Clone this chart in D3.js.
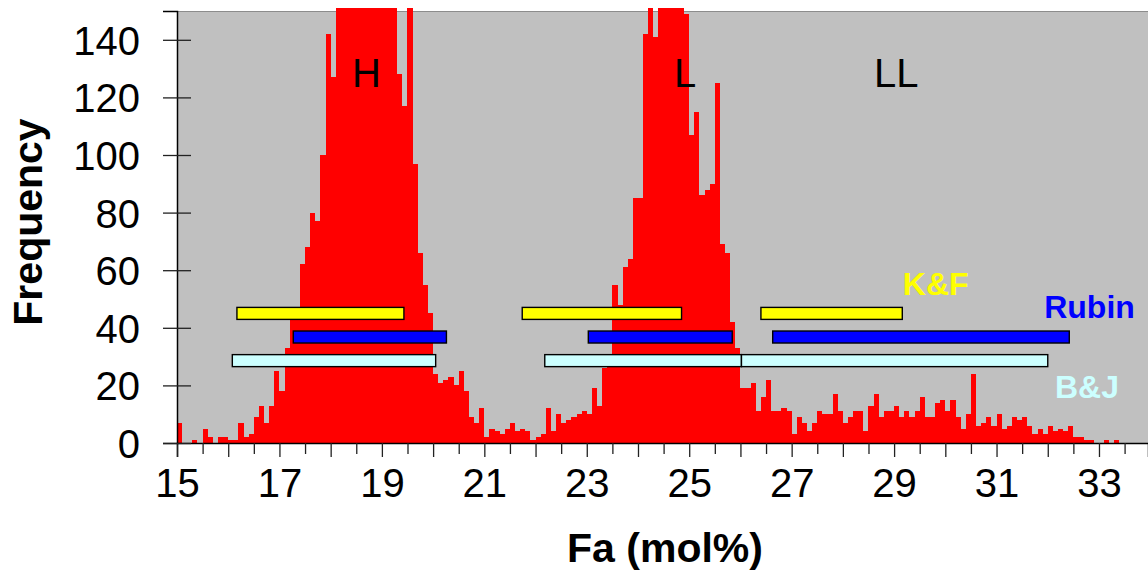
<!DOCTYPE html>
<html>
<head>
<meta charset="utf-8">
<script src="https://cdn.jsdelivr.net/npm/d3@7"></script>
<style>
    body { margin: 0; background: #fff; }
    text { font-family: "Liberation Sans", Arial, sans-serif; }
</style>
</head>
<body>
<div id="chart"></div>
<script>
// histogram of Fa (mol%), bins of 0.1 starting at 15.0
var binStart = 15.0;
var binWidth = 0.1;
var freq = [
    7, 0, 0, 1, 0, 5, 2, 0, 2, 2,            // 15.0
    1, 1, 7, 2, 3, 9, 13, 7, 13, 25,         // 16.0
    18, 33, 43, 43, 62, 68, 80, 77, 100, 142, // 17.0
    127, 158, 175, 190, 215, 230, 245, 240, 228, 210, // 18.0
    195, 172, 160, 128, 117, 165, 97, 66, 55, 45,     // 19.0
    24, 21, 22, 23, 20, 25, 18, 9, 7, 12,    // 20.0
    2, 5, 4, 3, 5, 7, 4, 5, 4, 1,            // 21.0
    2, 3, 12, 4, 10, 7, 8, 9, 10, 11,        // 22.0
    10, 19, 13, 26, 31, 55, 48, 61, 64, 85,  // 23.0
    85, 142, 155, 141, 170, 195, 200, 180, 160, 149, // 24.0
    107, 115, 86, 88, 90, 125, 69, 66, 42, 33,       // 25.0
    19, 19, 21, 11, 16, 22, 11, 11, 12, 11,  // 26.0
    3, 9, 7, 4, 7, 11, 10, 10, 17, 11,       // 27.0
    7, 9, 11, 11, 4, 13, 17, 9, 11, 11,      // 28.0
    13, 9, 11, 9, 11, 16, 9, 9, 14, 15,      // 29.0
    11, 15, 9, 5, 10, 24, 6, 7, 9, 6,        // 30.0
    10, 5, 6, 9, 8, 9, 6, 3, 5, 3,           // 31.0
    6, 4, 5, 4, 6, 2, 2, 1, 1, 0,            // 32.0
    0, 1, 0, 1                               // 33.0
];

var xTickValues = d3.range(15, 33.51, 0.5);
var xTickLabels = [15, 17, 19, 21, 23, 25, 27, 29, 31, 33];
var yTickValues = [0, 20, 40, 60, 80, 100, 120, 140];

// group ranges (Fa mol%) for H, L, LL
var rangeNames = ["K&F", "Rubin", "B&J"];
var rangeLevels = [45, 36.8, 28.6];
var kfRanges = [[16.17, 19.43], [21.74, 24.85], [26.40, 29.16]];
var rubinRanges = [[17.27, 20.26], [23.03, 25.84], [26.63, 32.42]];
var bjRanges = [[16.08, 20.05], [22.18, 26.02], [26.02, 32.0]];

var groupNames = ["H", "L", "LL"];
var groupCenters = [18.7, 24.92, 29.04];

var W = 1148, H = 571;
var svg = d3.select("#chart").append("svg")
    .attr("width", W)
    .attr("height", H);

var x = d3.scaleLinear().domain([15, 33.957]).range([177, 1148]);
var y = d3.scaleLinear().domain([0, 150]).range([443, 11]);

// plot background
svg.append("rect")
    .attr("x", x(15)).attr("y", y(150))
    .attr("width", W - x(15)).attr("height", y(0) - y(150))
    .attr("fill", "#c0c0c0");
svg.append("line")
    .attr("x1", x(15)).attr("x2", W)
    .attr("y1", y(150) + 0.5).attr("y2", y(150) + 0.5)
    .attr("stroke", "#8c8c8c");

svg.append("clipPath").attr("id", "clip")
    .append("rect")
    .attr("x", x(15)).attr("y", 8)
    .attr("width", W - x(15)).attr("height", y(0) - 8);

// histogram bars
svg.append("g")
    .attr("clip-path", "url(#clip)")
    .attr("shape-rendering", "crispEdges")
    .selectAll("rect")
    .data(freq)
    .enter()
    .append("rect")
    .attr("x", (d, i) => Math.round(x(binStart + i * binWidth)))
    .attr("width", (d, i) => Math.round(x(binStart + (i + 1) * binWidth)) - Math.round(x(binStart + i * binWidth)))
    .attr("y", d => Math.round(y(d)))
    .attr("height", d => y(0) - Math.round(y(d)))
    .attr("fill", "#ff0000");

// range bars
var rangeColors = ["#ffff00", "#0000ff", "#ccffff"];
var allRanges = [kfRanges, rubinRanges, bjRanges];
allRanges.forEach(function (ranges, s) {
    svg.append("g")
        .selectAll("rect")
        .data(ranges)
        .enter()
        .append("rect")
        .attr("x", d => x(d[0]))
        .attr("width", d => x(d[1]) - x(d[0]))
        .attr("y", y(rangeLevels[s]) - 6)
        .attr("height", 12)
        .attr("fill", rangeColors[s])
        .attr("stroke", "#000")
        .attr("stroke-width", 1.4);
});

// x axis
var gx = svg.append("g")
    .attr("transform", "translate(0," + y(0) + ")")
    .call(d3.axisBottom(x)
        .tickValues(xTickValues)
        .tickSizeOuter(0)
        .tickSize(14)
        .tickFormat(d => xTickLabels.indexOf(d) >= 0 ? d : ""));
gx.select(".domain").attr("stroke", "#000").attr("stroke-width", 1.5);
gx.selectAll(".tick line")
    .attr("stroke", "#222")
    .attr("stroke-width", 1.3)
    .attr("y2", d => d % 1 === 0 ? 14 : 11);
gx.selectAll(".tick text")
    .attr("y", 54).attr("dy", null)
    .attr("font-size", 40)
    .attr("fill", "#000");

// y axis, ticks cross the axis line
var gy = svg.append("g")
    .attr("transform", "translate(" + x(15) + ",0)")
    .call(d3.axisLeft(y)
        .tickValues(yTickValues)
        .tickSizeOuter(0)
        .tickSize(14));
gy.select(".domain").attr("stroke", "#000").attr("stroke-width", 1.5);
gy.selectAll(".tick line")
    .attr("stroke", "#222")
    .attr("stroke-width", 1.3)
    .attr("x1", 14);
gy.selectAll(".tick text")
    .attr("x", -37).attr("dy", "0.36em")
    .attr("font-size", 40)
    .attr("fill", "#000");
gx.attr("font-family", null);
gy.attr("font-family", null);

// axis titles
svg.append("text")
    .attr("x", 665).attr("y", 562)
    .attr("text-anchor", "middle")
    .attr("font-size", 41)
    .attr("font-weight", "bold")
    .text("Fa (mol%)");
svg.append("text")
    .attr("transform", "translate(42," + 222 + ") rotate(-90)")
    .attr("text-anchor", "middle")
    .attr("font-size", 41)
    .attr("font-weight", "bold")
    .text("Frequency");

// group labels
svg.selectAll(".group")
    .data(groupNames)
    .enter()
    .append("text")
    .attr("class", "group")
    .attr("x", (d, i) => x(groupCenters[i]))
    .attr("y", y(123.5))
    .attr("text-anchor", "middle")
    .attr("font-size", 40)
    .text(d => d);

// range legend labels
var labelPos = [[29.17, 51.3], [31.93, 43.3], [32.14, 15.5]];
svg.selectAll(".rlabel")
    .data(rangeNames)
    .enter()
    .append("text")
    .attr("class", "rlabel")
    .attr("x", (d, i) => x(labelPos[i][0]))
    .attr("y", (d, i) => y(labelPos[i][1]))
    .attr("font-size", 32)
    .attr("font-weight", "bold")
    .attr("fill", (d, i) => rangeColors[i])
    .text(d => d);
</script>
</body>
</html>
